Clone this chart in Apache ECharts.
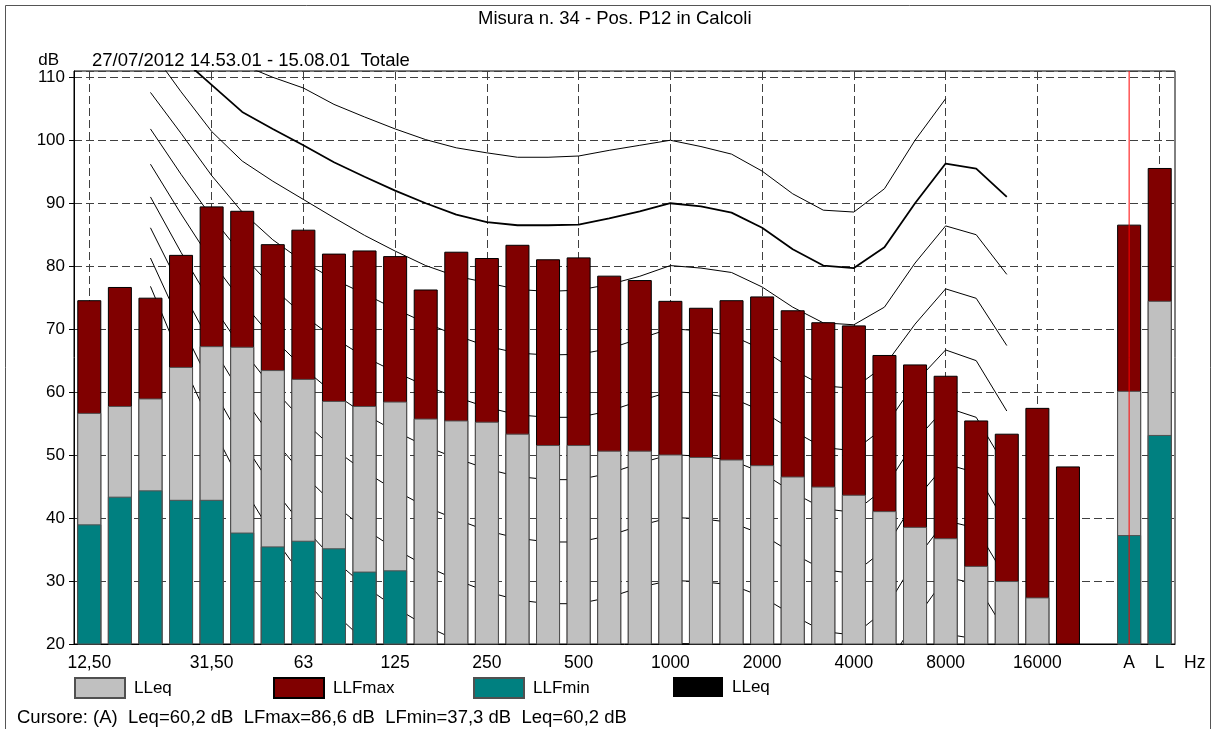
<!DOCTYPE html>
<html>
<head>
<meta charset="utf-8">
<title>Misura n. 34 - Pos. P12 in Calcoli</title>
<script src="https://cdn.jsdelivr.net/npm/echarts@6/dist/echarts.min.js"></script>
<style>
html, body { margin: 0; padding: 0; background: #fff; }
#chart { width: 1216px; height: 729px; }
</style>
</head>
<body>
<div id="chart"></div>
<script>
// bande di terzo d'ottava, un posto vuoto, poi A e L
var bands = ['12.5', '16', '20', '25', '31.5', '40', '50', '63', '80', '100', '125', '160', '200', '250', '315', '400', '500', '630', '800', '1000', '1250', '1600', '2000', '2500', '3150', '4000', '5000', '6300', '8000', '10000', '12500', '16000', '20000', 'vuoto', 'A', 'L'];
var tickLabels = ['12,50', '', '', '', '31,50', '', '', '63', '', '', '125', '', '', '250', '', '', '500', '', '', '1000', '', '', '2000', '', '', '4000', '', '', '8000', '', '', '16000', '', '', 'A', 'L'];

// livelli misurati (dB)
var llfmax = [74.6, 76.7, 75.0, 81.8, 89.5, 88.8, 83.5, 85.8, 82.0, 82.5, 81.6, 76.3, 82.3, 81.3, 83.4, 81.1, 81.4, 78.5, 77.8, 74.5, 73.4, 74.6, 75.2, 73.0, 71.1, 70.6, 65.9, 64.4, 62.6, 55.5, 53.4, 57.5, 48.2, '-', 86.6, 95.6];
var lleq = [56.7, 57.8, 59.0, 64.0, 67.3, 67.2, 63.5, 62.1, 58.6, 57.8, 58.5, 55.8, 55.5, 55.3, 53.4, 51.6, 51.6, 50.7, 50.7, 50.1, 49.7, 49.3, 48.4, 46.6, 45.0, 43.7, 41.1, 38.6, 36.8, 32.4, 30.0, 27.4, '-', '-', 60.2, 74.5];
var llfmin = [39.0, 43.4, 44.4, 42.9, 42.9, 37.7, 35.5, 36.4, 35.2, 31.5, 31.7, '-', '-', '-', '-', '-', '-', '-', '-', '-', '-', '-', '-', '-', '-', '-', '-', '-', '-', '-', '-', '-', '-', '-', 37.3, 53.2];
var cursorBand = 'A';
var yMin = 20, yMax = 111;

// isofoniche da 20 Hz a 12500 Hz
var iso100 = [null, null, null, 112.0, 110.0, 108.3, 105.7, 103.7, 101.8, 100.1, 98.8, 98.0, 97.3, 97.3, 97.5, 98.4, 99.2, 100.0, 99.0, 97.8, 95.1, 91.5, 88.9, 88.6, 92.3, 100.0, 106.6, null, null];
var iso90 = [117.5, 113.1, 108.8, 104.5, 101.8, 99.2, 96.5, 94.2, 92.0, 90.0, 88.2, 87.0, 86.5, 86.5, 86.6, 87.6, 88.7, 90.0, 89.5, 88.5, 86.1, 82.7, 80.1, 79.7, 83.0, 90.0, 96.3, 95.5, 91.0];
var iso80 = [114.4, 107.7, 101.4, 96.7, 93.5, 90.6, 87.7, 84.9, 82.4, 80.1, 78.4, 77.4, 76.3, 76.0, 76.2, 77.1, 78.4, 80.1, 79.7, 79.0, 76.7, 73.5, 71.0, 70.7, 73.5, 80.5, 86.4, 85.0, 78.7];
var iso70 = [107.6, 101.1, 94.4, 88.6, 84.2, 80.7, 77.9, 75.6, 73.2, 71.0, 69.0, 67.3, 66.2, 65.9, 66.0, 66.9, 68.5, 70.1, 69.7, 69.0, 66.8, 63.6, 61.0, 60.6, 64.2, 70.8, 76.4, 74.9, 67.4];
var iso60 = [101.8, 94.6, 87.8, 81.8, 76.6, 72.2, 68.6, 65.6, 63.2, 61.0, 59.2, 57.6, 56.4, 56.0, 56.0, 57.0, 58.6, 60.1, 59.8, 59.1, 57.0, 53.9, 51.2, 50.7, 54.4, 61.5, 66.7, 65.0, 57.0];
var iso50 = [96.2, 88.3, 80.8, 74.3, 68.6, 63.8, 59.8, 56.5, 53.8, 51.4, 49.5, 47.8, 46.6, 46.1, 46.1, 47.1, 48.7, 50.1, 49.8, 49.2, 47.2, 44.1, 41.5, 40.9, 44.7, 52.2, 57.6, 56.0, 47.8];
var iso40 = [91.0, 82.2, 74.0, 66.8, 60.6, 55.4, 51.0, 47.4, 44.4, 41.8, 39.8, 38.0, 36.8, 36.2, 36.2, 37.2, 38.8, 40.1, 39.9, 39.3, 37.4, 34.4, 31.8, 31.2, 35.0, 42.8, 48.6, 47.2, 38.8];
var iso30 = [86.1, 76.4, 67.4, 59.4, 52.6, 46.9, 42.2, 38.3, 35.1, 32.4, 30.2, 28.3, 27.0, 26.4, 26.4, 27.4, 29.0, 30.1, 29.9, 29.4, 27.5, 24.6, 22.0, 21.4, 25.3, 33.3, 39.6, 38.4, 30.2];
var iso20 = [81.3, 70.7, 60.9, 52.2, 44.8, 38.6, 33.4, 29.2, 25.8, 22.9, 20.6, 18.6, 17.2, 16.6, 16.6, 17.6, 19.2, 20.1, 20.0, 19.5, 17.6, 14.8, 12.2, 11.6, 15.6, 23.8, 30.6, 29.6, 21.6];
var iso10 = [76.8, 65.2, 54.6, 45.2, 37.2, 30.5, 25.0, 20.5, 16.8, 13.6, 11.1, 9.0, 7.6, 7.0, 7.0, 8.0, 9.6, 10.1, 10.1, 9.6, 7.7, 5.0, 2.4, 1.8, 5.9, 14.4, 21.6, 20.8, 13.0];

var FONT = '"Liberation Sans", Arial, sans-serif';

// porta la curva (20 Hz..12500 Hz) sulle 36 categorie
function onBands(arr) {
    var out = [null, null].concat(arr);
    while (out.length < bands.length) out.push(null);
    return out;
}

function fmt(v) {
    return v.toFixed(1).replace('.', ',');
}

var labelled = [];
tickLabels.forEach(function (t, i) {
    if (t !== '') labelled.push(i);
});
var cursorIdx = bands.indexOf(cursorBand);

var isoList = [iso100, iso90, iso80, iso70, iso60, iso50, iso40, iso30, iso20, iso10];
var series = [];
isoList.forEach(function (arr, idx) {
    series.push({
        name: 'iso' + idx,
        type: 'line',
        data: onBands(arr),
        symbol: 'none',
        silent: true,
        z: 1,
        lineStyle: { color: '#000', width: idx === 1 ? 1.8 : 1 }
    });
});

// griglia verticale tratteggiata sulle bande con etichetta
series[series.length - 1].markLine = {
    z: 1,
    silent: true,
    symbol: ['none', 'none'],
    label: { show: false },
    lineStyle: { color: '#404040', width: 1, type: [8, 4] },
    animation: false,
    data: labelled.filter(function (i) { return i !== cursorIdx; }).map(function (i) { return { xAxis: bands[i] }; })
};

series.push({
    name: 'LLFmax',
    type: 'bar',
    data: llfmax,
    barWidth: 24,
    barGap: '-100%',
    z: 2,
    itemStyle: { color: '#800000', borderColor: '#000', borderWidth: 1 }
});
series.push({
    name: 'LLeq',
    type: 'bar',
    data: lleq,
    barWidth: 24,
    barGap: '-100%',
    z: 2,
    itemStyle: { color: '#c0c0c0', borderColor: '#505050', borderWidth: 1 }
});
series.push({
    name: 'LLFmin',
    type: 'bar',
    data: llfmin,
    barWidth: 24,
    barGap: '-100%',
    z: 2,
    itemStyle: { color: '#008080', borderColor: '#505050', borderWidth: 1 }
});
series.push({
    name: 'LLeq ',
    type: 'line',
    data: [],
    itemStyle: { color: '#000' },
    lineStyle: { color: '#000' }
});
// cursore rosso sulla banda A, per tutta l'altezza dell'asse
series.push({
    name: 'cursore',
    type: 'line',
    data: [[cursorBand, yMin], [cursorBand, yMax]],
    symbol: 'none',
    silent: true,
    z: 10,
    lineStyle: { color: '#ff0000', width: 1 }
});

var legendCommon = {
    top: 677,
    padding: 0,
    itemWidth: 50,
    itemHeight: 20,
    icon: 'rect',
    selectedMode: false,
    textStyle: { fontFamily: FONT, fontSize: 17, color: '#000', padding: [0, 0, 0, 4] }
};
function legendAt(name, left) {
    return Object.assign({}, legendCommon, {
        data: [name],
        left: left,
        formatter: function (n) { return n.trim(); }
    });
}

var textBig = { fontFamily: FONT, fontSize: 18.5, fontWeight: 'normal', color: '#000' };

var chart = echarts.init(document.getElementById('chart'));
var option = {
    animation: false,
    backgroundColor: '#fff',
    textStyle: { fontFamily: FONT },
    title: [{
        text: 'Misura n. 34 - Pos. P12 in Calcoli',
        left: 478,
        top: 9,
        padding: 0,
        textStyle: textBig
    }, {
        text: '27/07/2012 14.53.01 - 15.08.01  Totale',
        left: 92,
        top: 51,
        padding: 0,
        textStyle: textBig
    }, {
        text: 'Cursore: (A)  Leq=' + fmt(lleq[cursorIdx]) + ' dB  LFmax=' + fmt(llfmax[cursorIdx]) + ' dB  LFmin=' + fmt(llfmin[cursorIdx]) + ' dB  Leq=' + fmt(lleq[cursorIdx]) + ' dB',
        left: 17,
        top: 708,
        padding: 0,
        textStyle: textBig
    }],
    legend: [
        legendAt('LLeq', 74),
        legendAt('LLFmax', 273),
        legendAt('LLFmin', 473),
        legendAt('LLeq ', 673)
    ],
    grid: {
        left: 74,
        right: 41,
        top: 71,
        bottom: 85,
        show: true,
        borderColor: '#000',
        borderWidth: 1,
        outerBoundsMode: 'none'
    },
    xAxis: {
        type: 'category',
        data: bands,
        name: 'Hz',
        nameLocation: 'end',
        nameGap: 9,
        nameTextStyle: { fontFamily: FONT, fontSize: 17.5, color: '#000', verticalAlign: 'top', padding: [10, 0, 0, 0] },
        axisLine: { lineStyle: { color: '#000', width: 1 } },
        axisTick: {
            alignWithLabel: true,
            length: 5,
            lineStyle: { color: '#000' },
            interval: function (i) { return tickLabels[i] !== ''; }
        },
        axisLabel: {
            interval: 0,
            margin: 10,
            fontFamily: FONT,
            fontSize: 17.5,
            color: '#000',
            formatter: function (v, i) { return tickLabels[i]; }
        },
        splitLine: { show: false }
    },
    yAxis: {
        type: 'value',
        min: yMin,
        max: yMax,
        interval: 10,
        name: 'dB',
        nameLocation: 'end',
        nameGap: 11,
        nameTextStyle: { fontFamily: FONT, fontSize: 17, color: '#000', align: 'right', verticalAlign: 'middle', padding: [0, 15, 0, 0] },
        axisLine: { show: true, lineStyle: { color: '#000', width: 1 } },
        axisTick: { show: true, length: 5, lineStyle: { color: '#000' } },
        axisLabel: {
            margin: 9,
            fontFamily: FONT,
            fontSize: 17,
            color: '#000',
            showMaxLabel: false,
            formatter: function (v) { return v % 10 === 0 ? String(v) : ''; }
        },
        splitLine: { show: true, lineStyle: { color: '#404040', width: 1, type: [8, 4] } }
    },
    graphic: [{
        type: 'rect',
        silent: true,
        shape: { x: 5.5, y: 5.5, width: 1205, height: 740 },
        style: { fill: 'none', stroke: '#555', lineWidth: 1 }
    }],
    series: series
};
chart.setOption(option);
window.onresize = chart.resize;
</script>
</body>
</html>
